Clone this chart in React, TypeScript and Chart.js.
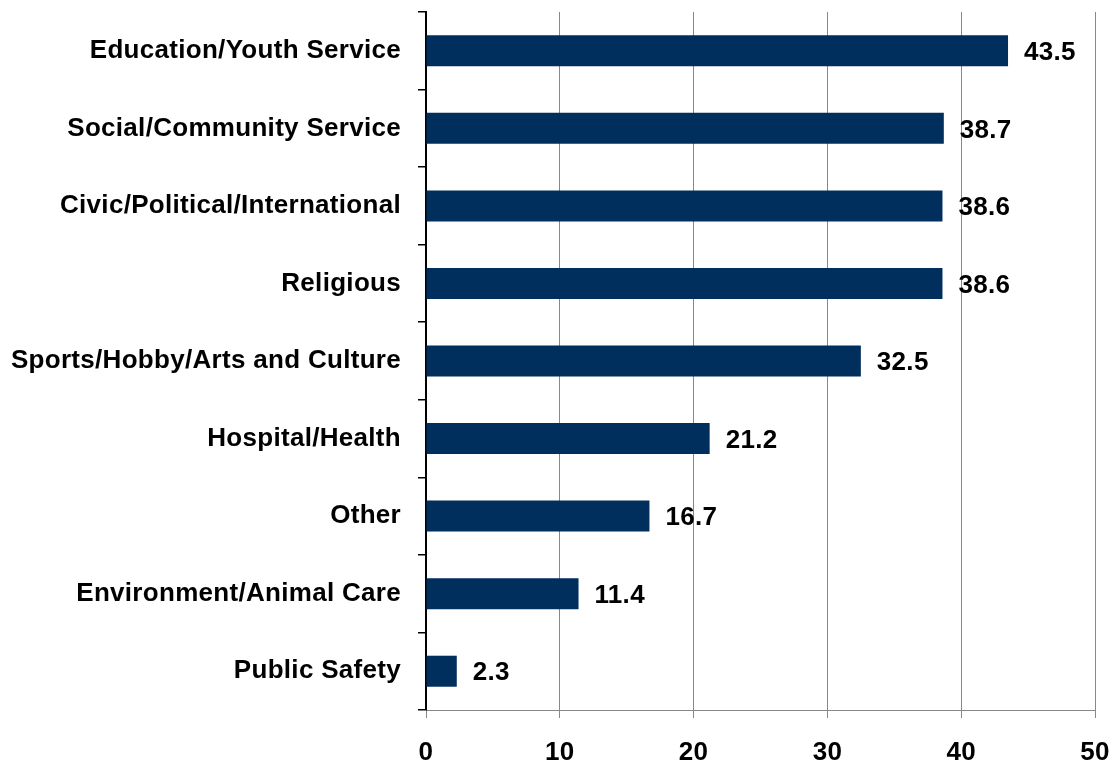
import React, { useEffect, useRef } from "react";
import { Chart, registerables } from "chart.js";

Chart.register(...registerables);

const categories: string[] = [
  "Education/Youth Service",
  "Social/Community Service",
  "Civic/Political/International",
  "Religious",
  "Sports/Hobby/Arts and Culture",
  "Hospital/Health",
  "Other",
  "Environment/Animal Care",
  "Public Safety",
];

const values: number[] = [43.5, 38.7, 38.6, 38.6, 32.5, 21.2, 16.7, 11.4, 2.3];

const xMin = 0;
const xMax = 50;
const xStep = 10;

const BAR_COLOR = "#002E5D";
const FONT_FAMILY = "Arial, 'Liberation Sans', Helvetica, sans-serif";
const FONT_SIZE = 26;
const LETTER_SPACING = "0.3px";

const spacingPlugin = {
  id: "letterSpacing",
  beforeInit(chart: any) {
    chart.ctx.letterSpacing = LETTER_SPACING;
  },
  beforeUpdate(chart: any) {
    chart.ctx.letterSpacing = LETTER_SPACING;
  },
  beforeDraw(chart: any) {
    chart.ctx.letterSpacing = LETTER_SPACING;
  },
};

const valueLabelPlugin = {
  id: "valueLabels",
  afterDatasetsDraw(chart: any) {
    const ctx = chart.ctx;
    const meta = chart.getDatasetMeta(0);
    const data = chart.data.datasets[0].data as number[];
    ctx.save();
    ctx.font = `bold ${FONT_SIZE}px ${FONT_FAMILY}`;
    ctx.letterSpacing = LETTER_SPACING;
    ctx.fillStyle = "#000";
    ctx.textAlign = "left";
    ctx.textBaseline = "middle";
    meta.data.forEach((bar: any, i: number) => {
      ctx.fillText(data[i].toFixed(1), bar.x + 16, bar.y + 2);
    });
    ctx.restore();
  },
};

export default function App() {
  const canvasRef = useRef<HTMLCanvasElement | null>(null);

  useEffect(() => {
    const prevMargin = document.body.style.margin;
    document.body.style.margin = "0";
    const canvas = canvasRef.current;
    if (!canvas) return;
    const chart = new Chart(canvas, {
      type: "bar",
      data: {
        labels: categories,
        datasets: [
          {
            data: values,
            backgroundColor: BAR_COLOR,
            borderWidth: 0,
            barPercentage: 0.4,
            categoryPercentage: 1,
          },
        ],
      },
      options: {
        indexAxis: "y",
        animation: false,
        responsive: true,
        maintainAspectRatio: false,
        devicePixelRatio: 1,
        layout: { padding: { top: 12, right: 18, left: 0, bottom: 0 } },
        plugins: {
          legend: { display: false },
          tooltip: { enabled: false },
          title: { display: false },
        },
        scales: {
          x: {
            type: "linear",
            min: xMin,
            max: xMax,
            ticks: {
              stepSize: xStep,
              color: "#000",
              font: { family: FONT_FAMILY, size: FONT_SIZE, weight: "bold" },
              padding: 19,
            },
            grid: {
              color: "#888888",
              lineWidth: 1,
              tickLength: 8,
              drawTicks: true,
            },
            border: { color: "#888888", width: 1 },
            afterFit(scale: any) {
              scale.height = 55;
              scale.paddingLeft = 0;
              scale.paddingRight = 0;
            },
          },
          y: {
            type: "category",
            ticks: {
              color: "#000",
              font: { family: FONT_FAMILY, size: FONT_SIZE, weight: "bold" },
              padding: 17,
            },
            grid: {
              display: true,
              offset: true,
              drawOnChartArea: false,
              drawTicks: true,
              tickLength: 8,
              color: "#000",
              lineWidth: 1.5,
            },
            border: { color: "#000", width: 2 },
            afterFit(scale: any) {
              scale.width = 426;
              scale.paddingTop = 0;
              scale.paddingBottom = 0;
            },
          },
        },
      },
      plugins: [spacingPlugin, valueLabelPlugin],
    } as any);
    return () => {
      chart.destroy();
      document.body.style.margin = prevMargin;
    };
  }, []);

  return (
    <div style={{ position: "fixed", left: 0, top: 0, width: 1113, height: 765, background: "#fff" }}>
      <canvas ref={canvasRef} />
    </div>
  );
}
